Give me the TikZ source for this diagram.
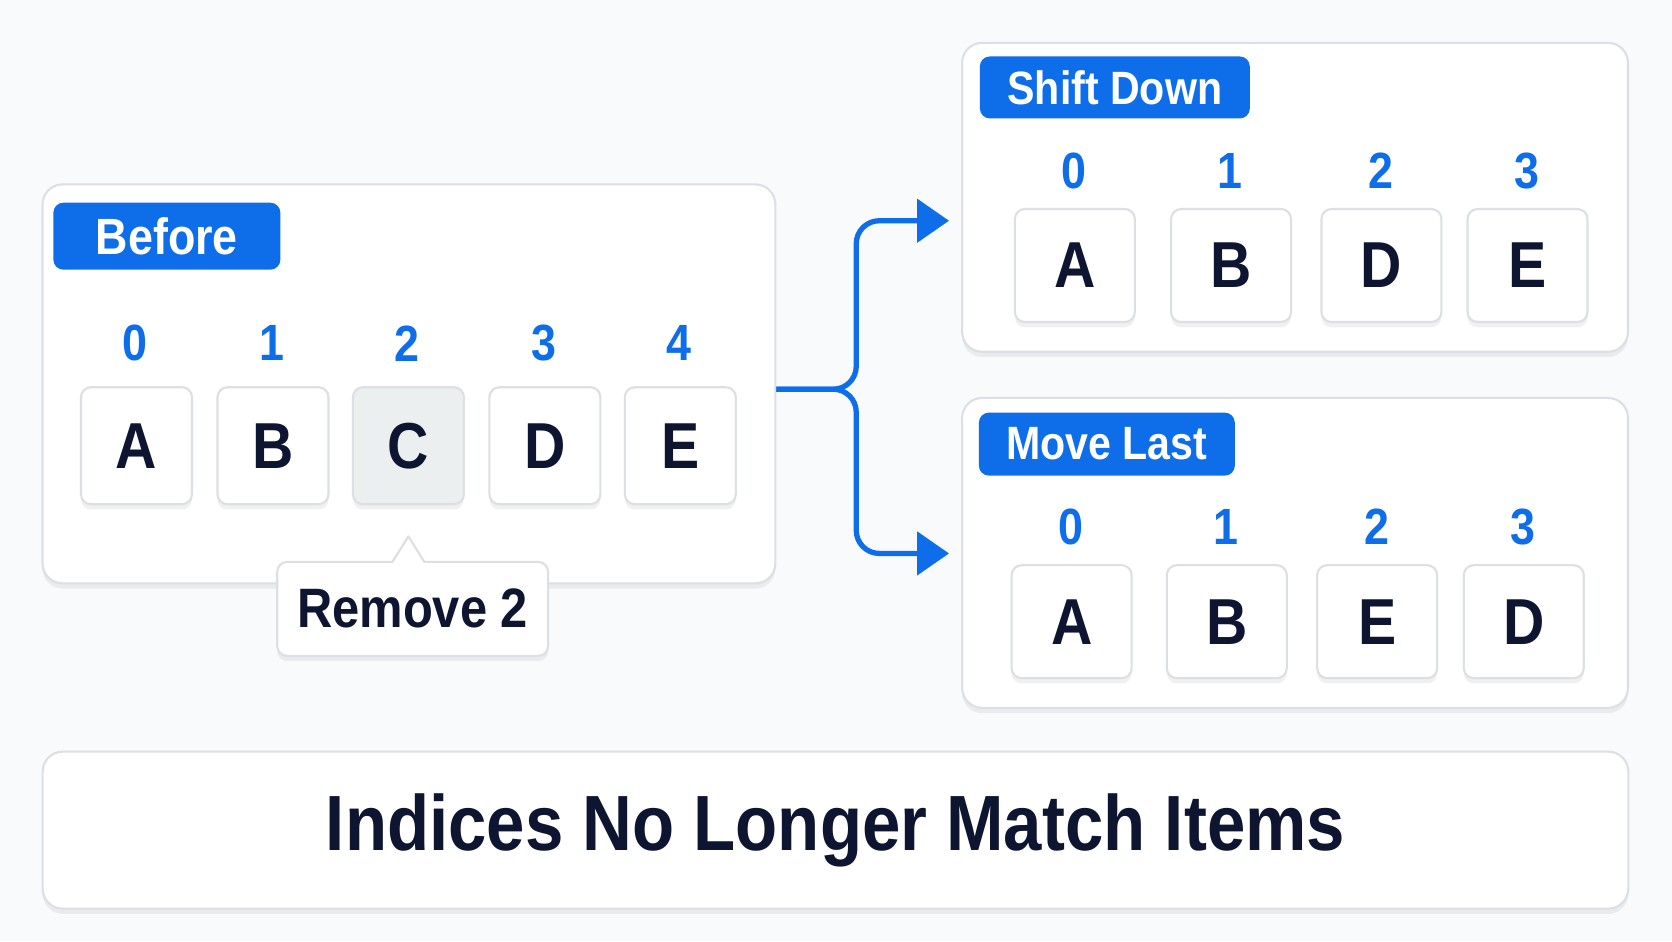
\documentclass[tikz,border=0pt]{standalone}
\usepackage{fontspec}
\setmainfont[FakeStretch=0.88]{Liberation Sans}
\usepackage{xcolor}
\usetikzlibrary{positioning,shapes,arrows.meta,shadows}
\definecolor{tagblue}{RGB}{14,110,234}
\definecolor{inkdark}{RGB}{14,21,48}
\definecolor{edgegrey}{RGB}{220,223,227}
\definecolor{pagebg}{RGB}{249,250,251}
\definecolor{cellgone}{RGB}{236,239,239}

\begin{document}
\begin{tikzpicture}[
            x=0.010663cm, y=-0.010663cm,
            softshadow/.style={drop shadow={shadow xshift=0pt, shadow yshift=-1.5pt, opacity=0.06, fill=black}},
            panel/.style={draw=edgegrey, line width=0.6pt, fill=white, rounded corners=0.2cm, inner sep=0pt, softshadow},
            tag/.style={fill=tagblue, rounded corners=0.1cm, inner sep=0pt, text=white, font=\bfseries\fontsize{13.3}{15}\selectfont},
            idx/.style={text=tagblue, font=\bfseries\fontsize{14.5}{16}\selectfont},
            cell/.style={draw=edgegrey, line width=0.6pt, fill=white, rounded corners=0.1cm, minimum width=1.11cm, minimum height=1.17cm, inner sep=0pt, text=inkdark, font=\bfseries\fontsize{18.5}{20}\selectfont, softshadow},
            cellwide/.style={cell, minimum width=1.2cm, minimum height=1.13cm},
            flow/.style={draw=tagblue, line width=1.5pt, rounded corners=0.23cm, -{Triangle[length=0.32cm, width=0.43cm]}}
        ]
            % Page
            \fill[pagebg] (0,0) rectangle (1568,882.5);
            % Panels
            \node[panel, minimum width=7.33cm, minimum height=3.99cm] (before) at (383.5,360) {};
            \node[panel, minimum width=6.66cm, minimum height=3.09cm] (shift) at (1214.5,185) {};
            \node[panel, minimum width=6.66cm, minimum height=3.10cm] (movelast) at (1214.5,518.5) {};
            \node[panel, minimum width=15.86cm, minimum height=1.57cm] (verdict) at (783.5,778.5) {};
            % Tags
            \node[tag, minimum width=2.27cm, minimum height=0.67cm, font=\bfseries\fontsize{14.5}{16}\selectfont] (beforetag) at (156.5,221.5) {Before};
            \node[tag, minimum width=2.70cm, minimum height=0.62cm] (shifttag) at (1045.5,82) {Shift Down};
            \node[tag, minimum width=2.56cm, minimum height=0.63cm] (movetag) at (1038,416.5) {Move Last};
            % Before: indices and items
            \node[idx] (b0) at (127,322) {0};
            \node[idx] (b1) at (255,322) {1};
            \node[idx] (b2) at (382,322) {2};
            \node[idx] (b3) at (510,322) {3};
            \node[idx] (b4) at (637,322) {4};
            \node[cell] (bA) at (128,418) {A};
            \node[cell] (bB) at (256,418) {B};
            \node[cell, fill=cellgone] (bC) at (383,418) {C};
            \node[cell] (bD) at (511,418) {D};
            \node[cell] (bE) at (638,418) {E};
            % Shift Down: indices and items
            \node[idx] (s0) at (1007,160) {0};
            \node[idx] (s1) at (1153,160) {1};
            \node[idx] (s2) at (1295,160) {2};
            \node[idx] (s3) at (1432,160) {3};
            \node[cellwide] (sA) at (1008,249) {A};
            \node[cellwide] (sB) at (1154.5,249) {B};
            \node[cellwide] (sD) at (1295.5,249) {D};
            \node[cellwide] (sE) at (1432.5,249) {E};
            % Move Last: indices and items
            \node[idx] (m0) at (1004,494) {0};
            \node[idx] (m1) at (1150,494) {1};
            \node[idx] (m2) at (1291,494) {2};
            \node[idx] (m3) at (1428,494) {3};
            \node[cellwide] (mA) at (1005,583) {A};
            \node[cellwide] (mB) at (1150.5,583) {B};
            \node[cellwide] (mE) at (1291.5,583) {E};
            \node[cellwide] (mD) at (1429,583) {D};
            % Callout
            \node[cell, minimum width=2.71cm, minimum height=0.94cm, font=\bfseries\fontsize{15.8}{18}\selectfont] (remove) at (387,571) {Remove 2};
            \fill[white] (368,529) -- (383,503) -- (398,529) -- cycle;
            \draw[edgegrey, line width=0.6pt, line join=round] (368,527) -- (383,503) -- (398,527);
            % Verdict
            \node[text=inkdark, font=\bfseries\fontsize{22.3}{24}\selectfont] (verdicttext) at (verdict.center) {Indices No Longer Match Items};
            % Connectors
            \coordinate (split) at (803,365);
            \coordinate (shiftin) at (890,207);
            \coordinate (movein) at (890,519);
            \draw[flow] (before.east |- split) -- (split) |- (shiftin);
            \draw[flow] (before.east |- split) -- (split) |- (movein);
        \end{tikzpicture}
\end{document}
